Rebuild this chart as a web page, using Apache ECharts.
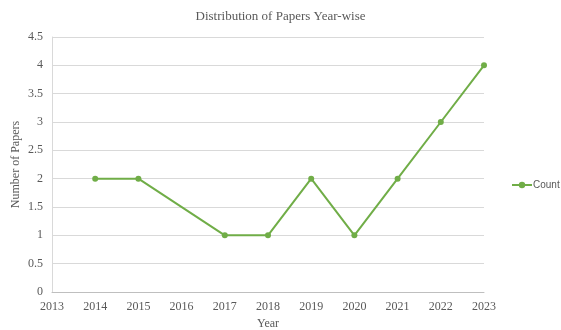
<!DOCTYPE html>
<html><head><meta charset="utf-8">
<script src="https://cdn.jsdelivr.net/npm/echarts@6/dist/echarts.min.js"></script>
<style>html,body{margin:0;padding:0;background:#fff}#c{width:561px;height:330px}</style>
</head><body><div id="c"></div>
<script>
const years = [2014, 2015, 2017, 2018, 2019, 2020, 2021, 2022, 2023];
const counts = [2, 2, 1, 1, 2, 1, 2, 3, 4];
const title = 'Distribution of Papers Year-wise';
const seriesName = 'Count';
const xName = 'Year';
const yName = 'Number of Papers';

const chart = echarts.init(document.getElementById('c'), null, {renderer: 'canvas'});
const serif = '"Liberation Serif", "DejaVu Serif", serif';
chart.setOption({
  animation: false,
  backgroundColor: '#fff',
  title: {text: title, left: 'center', top: 5, textStyle: {fontFamily: serif, fontSize: 13, fontWeight: 'normal', color: '#595959'}},
  legend: {
    data: [seriesName], left: 511, top: 180, padding: 0, orient: 'vertical', itemWidth: 20, itemHeight: 8, itemGap: 2,
    textStyle: {fontFamily: '"Liberation Sans", sans-serif', fontSize: 10, color: '#595959', padding: [0,0,0,-4]}
  },
  grid: {left: 52, right: 77, top: 37, bottom: 38, outerBoundsMode: 'none', containLabel: false},
  xAxis: {
    type: 'value', min: 2013, max: 2023, interval: 1,
    name: xName, nameLocation: 'middle', nameGap: 26,
    nameTextStyle: {fontFamily: serif, fontSize: 12, color: '#595959'},
    axisLine: {show: true, lineStyle: {color: '#bfbfbf'}},
    axisTick: {show: false},
    splitLine: {show: false},
    axisLabel: {fontFamily: serif, fontSize: 12, color: '#595959', margin: 9, formatter: v => String(v)}
  },
  yAxis: {
    type: 'value', min: 0, max: 4.5, interval: 0.5,
    name: yName, nameLocation: 'middle', nameGap: 30, nameRotate: 90, nameMoveOverlap: false,
    nameTextStyle: {fontFamily: serif, fontSize: 12, color: '#595959'},
    axisLine: {show: true, lineStyle: {color: '#d9d9d9'}},
    axisTick: {show: false},
    splitLine: {lineStyle: {color: '#d9d9d9'}},
    axisLabel: {fontFamily: serif, fontSize: 12, color: '#595959', margin: 9}
  },
  series: [{
    name: seriesName, type: 'line',
    data: years.map((y, i) => [y, counts[i]]),
    symbol: 'circle', symbolSize: 6,
    lineStyle: {color: '#70ad47', width: 2},
    itemStyle: {color: '#70ad47'}
  }]
});
</script></body></html>
